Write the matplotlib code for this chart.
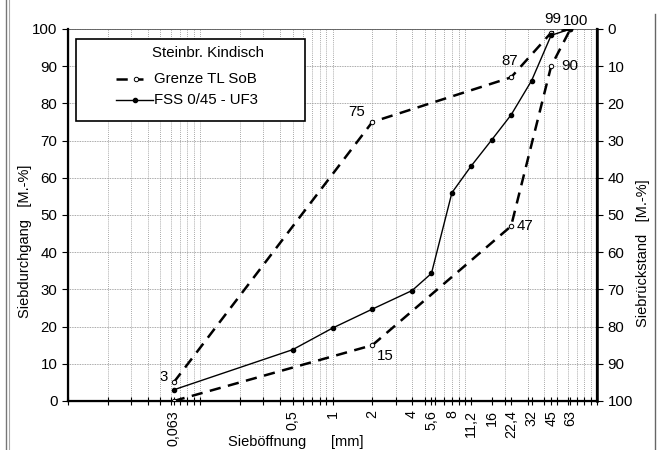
import matplotlib
matplotlib.use("Agg")
import matplotlib.pyplot as plt
from matplotlib.ticker import FixedLocator, NullFormatter
from matplotlib.patches import Rectangle
from matplotlib.lines import Line2D

plt.rcParams['font.family'] = ['Liberation Sans', 'DejaVu Sans']

# sieve sizes [mm]
grenze_x = [0.063, 2, 22.4, 45, 63]
grenze_oben = [5, 75, 87, 99, 100]
grenze_unten = [0, 15, 47, 90, 100]

fss_x = [0.063, 0.5, 1, 2, 4, 5.6, 8, 11.2, 16, 22.4, 32, 45, 63]
fss_y = [3, 13.8, 19.6, 24.7, 29.7, 34.3, 56, 63.2, 70.2, 76.9, 86.1, 98.3, 100]

tick_pos = [0.063, 0.5, 1, 2, 4, 5.6, 8, 11.2, 16, 22.4, 32, 45, 63]
tick_lab = ["0,063", "0,5", "1", "2", "4", "5,6", "8", "11,2", "16", "22,4", "32", "45", "63"]

W, H = 658, 450
fig = plt.figure(figsize=(W/100, H/100), dpi=100)
ax = fig.add_axes([68/W, 1-401/H, (597-68)/W, (401-29)/H])

ax.set_xscale('log')
ax.set_xlim(0.01, 100)
ax.set_ylim(0, 100)

# grid
minors = [m*10.0**e for e in range(-2, 2) for m in range(1, 10)] + [100]
for v in minors:
    ax.axvline(v, color='#8c8c8c', lw=0.6, ls=(0, (1, 1.5)), zorder=0)
for v in range(10, 101, 10):
    ax.axhline(v, color='#8c8c8c', lw=0.6, ls=(0, (1, 1)), zorder=0)

dash = (0, (4.5, 3))
gstyle = dict(color='black', lw=1.8, ls=dash, marker='o', ms=3.2, mfc='white', mec='black', mew=0.7)
fstyle = dict(color='black', lw=1.0, marker='o', ms=3.0)
ax.plot(grenze_x, grenze_oben, zorder=3, **gstyle)
ax.plot(grenze_x, grenze_unten, zorder=3, **gstyle)
ax.plot(fss_x, fss_y, zorder=4, **fstyle)

# value labels
fs = 10.8
def lab(txt, xy, off, ha, va):
    ax.annotate(txt, xy, xytext=off, textcoords='offset points', ha=ha, va=va, fontsize=fs)

lab("3", (fss_x[0], fss_y[0]), (-4, 4), 'right', 'bottom')
lab(str(grenze_oben[1]), (grenze_x[1], grenze_oben[1]), (-5, 2), 'right', 'bottom')
lab(str(grenze_oben[2]), (grenze_x[2], grenze_oben[2]), (-1, 7), 'center', 'bottom')
lab(str(grenze_oben[3]), (grenze_x[3], grenze_oben[3]), (1.5, 5), 'center', 'bottom')
lab(str(grenze_oben[4]), (grenze_x[4], grenze_oben[4]), (4, 1), 'center', 'bottom')
lab(str(grenze_unten[3]), (grenze_x[3], grenze_unten[3]), (7, 0), 'left', 'center')
lab(str(grenze_unten[2]), (grenze_x[2], grenze_unten[2]), (4, 0), 'left', 'center')
lab(str(grenze_unten[1]), (grenze_x[1], grenze_unten[1]), (3, -3), 'left', 'top')

# x ticks
ax.xaxis.set_major_locator(FixedLocator(tick_pos))
ax.set_xticklabels(tick_lab, rotation=90, fontsize=10.3)
ax.xaxis.set_minor_locator(FixedLocator(minors))
ax.xaxis.set_minor_formatter(NullFormatter())
ax.tick_params(axis='x', which='both', direction='inout', length=6, width=0.8)

ax.set_yticks(range(0, 101, 10))
ax.tick_params(axis='y', labelsize=10.8, length=4, width=0.8)

for s in ['left', 'bottom', 'right']:
    ax.spines[s].set_linewidth(1.6)
ax.spines['top'].set_linewidth(0.6)
ax.spines['top'].set_color('#555555')

ax2 = ax.twinx()
ax2.set_ylim(100, 0)
ax2.set_yticks(range(0, 101, 10))
ax2.tick_params(axis='y', labelsize=10.8, length=4, width=0.8)
ax2.spines['right'].set_linewidth(1.8)
ax2.spines['top'].set_visible(False)

# legend box (pixel layout of the reference)
def fx(x):
    return x / W
def fy(y):
    return 1 - y / H

fig.add_artist(Rectangle((fx(76), fy(121)), fx(305) - fx(76), fy(39) - fy(121),
                         facecolor='white', edgecolor='black', lw=1.2, zorder=5))
fig.text(fx(208), fy(53), "Steinbr. Kindisch", ha='center', va='center', fontsize=10.8, zorder=6)
fig.add_artist(Line2D([fx(116), fx(143)], [fy(79), fy(79)], zorder=6, **{k: v for k, v in gstyle.items() if k != 'marker'}))
fig.add_artist(Line2D([fx(136)], [fy(79)], marker='o', ms=3.2, mfc='white', mec='black', mew=0.7, ls='none', zorder=7))
fig.text(fx(154), fy(79), "Grenze TL SoB", ha='left', va='center', fontsize=10.8, zorder=6)
fig.add_artist(Line2D([fx(116), fx(153)], [fy(100), fy(100)], color='black', lw=1.0, zorder=6))
fig.add_artist(Line2D([fx(135)], [fy(100)], marker='o', ms=3.0, color='black', ls='none', zorder=7))
fig.text(fx(154), fy(100), "FSS 0/45 - UF3", ha='left', va='center', fontsize=10.8, zorder=6)

# axis titles
fig.text(fx(25), fy(241), "Siebdurchgang   [M.-%]", rotation=90, ha='center', va='center', fontsize=10.5)
fig.text(fx(643), fy(253), "Siebrückstand   [M.-%]", rotation=90, ha='center', va='center', fontsize=10.5)
fig.text(fx(296), fy(442), "Sieböffnung      [mm]", ha='center', va='center', fontsize=10.5)

# scan frame
fig.add_artist(Line2D([fx(6), fx(6)], [0, 1], color='#777777', lw=1.0))
fig.add_artist(Line2D([fx(9), fx(9)], [0, 1], color='#aaaaaa', lw=0.8))
fig.add_artist(Line2D([fx(655), fx(655)], [0, 0.97], color='#666666', lw=1.0))

fig.savefig("out.png", dpi=100)
